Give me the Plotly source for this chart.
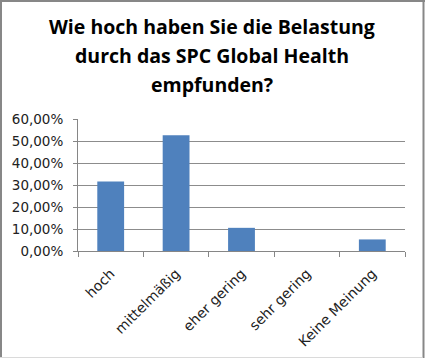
import plotly.graph_objects as go

categories = ["hoch", "mittelmäßig", "eher gering", "sehr gering", "Keine Meinung"]
values = [0.3158, 0.5263, 0.1053, 0.0, 0.0526]
y_ticks = [0, 0.1, 0.2, 0.3, 0.4, 0.5, 0.6]
y_tick_labels = ["0,00%", "10,00%", "20,00%", "30,00%", "40,00%", "50,00%", "60,00%"]
title_lines = ["Wie hoch haben Sie die Belastung", "durch das SPC Global Health", "empfunden?"]

W, H = 425, 358
L, R, T, B = 78, 20, 119, 107
pw, ph = W - L - R, H - T - B


def px_x(x):
    return (x - L) / pw


def px_y(y):
    return (T + ph - y) / ph


fig = go.Figure(go.Bar(
    x=categories, y=values,
    marker=dict(color="#4F81BD", line=dict(width=0)),
    width=0.41,
))

fig.update_layout(
    width=W, height=H,
    margin=dict(l=L, r=R, t=T, b=B, autoexpand=False),
    paper_bgcolor="white", plot_bgcolor="white",
    showlegend=False,
    font=dict(family="DejaVu Sans", size=13, color="#222222"),
)

for i, line in enumerate(title_lines):
    base_px = 33 + 29 * i
    fig.add_annotation(
        text="<b>" + line + "</b>", xref="paper", yref="paper",
        x=px_x(212), y=px_y(base_px),
        xanchor="center", yanchor="bottom", yshift=-9, showarrow=False,
        font=dict(family="Open Sans", size=19.5, color="#000000"),
    )

fig.update_xaxes(
    type="category", tickson="boundaries", ticks="outside", ticklen=5,
    tickcolor="#868686", showline=True, linecolor="#868686", linewidth=1,
    showgrid=False, tickangle=-45, tickfont=dict(size=14, color="#222222"),
    ticklabelstandoff=8, automargin=False,
)
fig.update_yaxes(
    range=[0, 0.6], tickvals=y_ticks, ticktext=y_tick_labels,
    showgrid=True, gridcolor="#8C8C8C", gridwidth=1,
    showline=True, linecolor="#868686", linewidth=1,
    ticks="outside", ticklen=4, tickcolor="#868686",
    tickfont=dict(size=13.5, color="#222222"), zeroline=False,
    ticklabelstandoff=7, automargin=False,
)

frame = dict(color="#878787", width=2)
# left, top, right
fig.add_shape(type="line", xref="paper", yref="paper",
              x0=px_x(1), x1=px_x(1), y0=px_y(0), y1=px_y(358), line=frame)
fig.add_shape(type="line", xref="paper", yref="paper",
              x0=px_x(0), x1=px_x(425), y0=px_y(1), y1=px_y(1), line=frame)
fig.add_shape(type="line", xref="paper", yref="paper",
              x0=px_x(423.5), x1=px_x(423.5), y0=px_y(0), y1=px_y(358), line=frame)
# faint bottom edge
fig.add_shape(type="line", xref="paper", yref="paper",
              x0=px_x(0), x1=px_x(422.5), y0=px_y(357.5), y1=px_y(357.5),
              line=dict(color="#DADADA", width=1))

fig.write_html("out.html", config={"displayModeBar": False},
               post_script="document.body.style.margin='0';")
